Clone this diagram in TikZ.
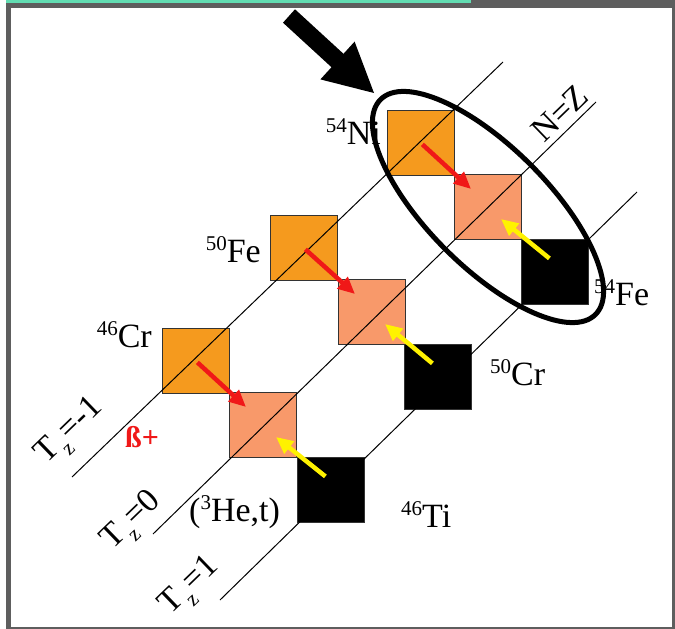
\documentclass[tikz,border=0pt]{standalone}
\usepackage{fontspec}
\setmainfont{Liberation Serif}
\usetikzlibrary{arrows.meta,calc}
\definecolor{orangeA}{HTML}{F59A1E}
\definecolor{salmonA}{HTML}{F8996A}
\definecolor{frameg}{HTML}{5E5E5E}
\definecolor{mint}{HTML}{62DDB2}
\definecolor{redA}{HTML}{F01818}
\definecolor{yelA}{HTML}{FFF200}
\newcommand\nucl[2]{\raisebox{12pt}{\fontsize{21}{21}\selectfont #1}#2}
\newcommand\tzlab[1]{T\kern1pt\raisebox{-10pt}{\fontsize{21}{21}\selectfont z}\kern1pt=#1}
\begin{document}
\begin{tikzpicture}[x=1pt,y=-1pt,
  sq/.style={draw=black!80,line width=0.8pt,minimum width=67pt,minimum height=65pt,inner sep=0pt,anchor=north west},
  nuc/.style={sq,fill=orangeA},
  mid/.style={sq,fill=salmonA},
  stab/.style={sq,fill=black},
  tzline/.style={line width=1pt,black},
  redarr/.style={draw=redA,line width=4.5pt,-{Triangle[length=17pt,width=15pt]}},
  yelarr/.style={draw=yelA,line width=4.5pt,-{Triangle[length=17pt,width=15pt]}},
  lab/.style={font=\fontsize{34}{34}\selectfont,inner sep=0pt},
  tz/.style={font=\fontsize{34}{34}\selectfont,inner sep=0pt,rotate=44}]
\useasboundingbox (0,0) rectangle (675,629);
% frame
\fill[frameg] (6,0) rectangle (675,629);
\fill[mint] (6,0) rectangle (471,2.5);
\fill[white] (10.5,7.5) rectangle (672,626.5);
% squares
\node[nuc]  (ni54) at (387,110) {};
\node[mid]  (co54) at (454,174) {};
\node[stab] (fe54) at (521,239) {};
\node[nuc]  (fe50) at (270,215) {};
\node[mid]  (mn50) at (338,279) {};
\node[stab] (cr50) at (404,344) {};
\node[nuc]  (cr46) at (162,328) {};
\node[mid]  (v46)  at (229,392) {};
\node[stab] (ti46) at (297,457) {};
% Tz lines
\coordinate (am) at (72,477);  \coordinate (bm) at (503,62);
\coordinate (a0) at (153,534); \coordinate (b0) at (596,102);
\coordinate (a1) at (220,600); \coordinate (b1) at (637,192);
\draw[tzline] (am) -- (bm);
\draw[tzline] (a0) -- (b0);
\draw[tzline] (a1) -- (b1);
% decay arrows
\foreach \o/\p/\s in {ni54/co54/fe54, fe50/mn50/cr50, cr46/v46/ti46}{
  \draw[redarr] ($(\o.center)+(1.5,1.5)$) -- ($(\p.north west)+(17,15)$);
  \draw[yelarr] ($(\s.center)+(-5.5,-13.5)$) -- ($(\p.north west)+(47,45)$);
}
% labels
\node[lab,anchor=base east] (tni) at (381,144) {\nucl{54}{Ni}};
\node[lab,anchor=base east] (tfe50) at (261,262) {\nucl{50}{Fe}};
\node[lab,anchor=base east] (tcr46) at (152,347) {\nucl{46}{Cr}};
\node[lab,anchor=base west] (tcr50) at (490,385) {\nucl{50}{Cr}};
\node[lab,anchor=base west] (tfe54) at (594,305) {\nucl{54}{Fe}};
\node[lab,anchor=base west] (tti) at (401,527) {\nucl{46}{Ti}};
\node[lab,anchor=base west] (the) at (189,521) {(\raisebox{12pt}{\fontsize{21}{21}\selectfont 3}He,t)};
\node[inner sep=0pt,anchor=base west,text=redA,font=\fontsize{30}{30}\selectfont\bfseries] (tb) at (125,447) {ß+};
\node[tz] (tzm) at (71,432) {\tzlab{-1}};
\node[tz] (tz0) at (133,522) {\tzlab{0}};
\node[tz] (tz1) at (191,587) {\tzlab{1}};
\node[tz] (nz) at (560,113) {N=Z};
% big arrow
\fill[black] (295,9.3) -- (343.5,53.8) -- (354.6,41.6) -- (374,93) -- (320.4,79.4) -- (331.5,67.2) -- (283,22.7) -- cycle;
% ellipse
\coordinate (ec) at (488,207);
\draw[line width=5pt,rotate around={-45:(ec)}] (ec) ellipse [x radius=152, y radius=60];
\end{tikzpicture}
\end{document}
